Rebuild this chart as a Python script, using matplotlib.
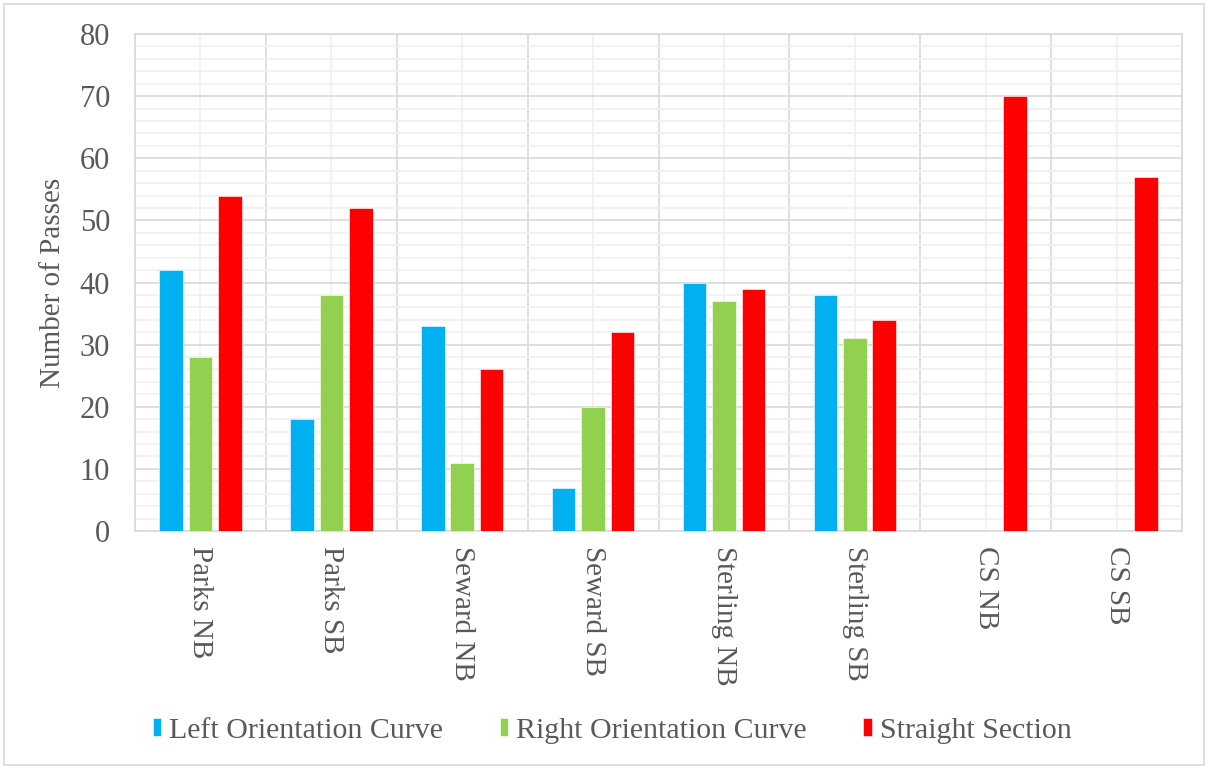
import matplotlib
matplotlib.use("Agg")
import matplotlib.pyplot as plt
import numpy as np
from matplotlib.patches import Rectangle

categories = ["Parks NB", "Parks SB", "Seward NB", "Seward SB",
              "Sterling NB", "Sterling SB", "CS NB", "CS SB"]
left_curve = [42, 18, 33, 7, 40, 38, 0, 0]
right_curve = [28, 38, 11, 20, 37, 31, 0, 0]
straight = [54, 52, 26, 32, 39, 34, 70, 57]
series_names = ["Left Orientation Curve", "Right Orientation Curve", "Straight Section"]
colors = ["#00B0F0", "#92D050", "#FF0000"]
y_ticks = [0, 10, 20, 30, 40, 50, 60, 70, 80]

plt.rcParams['font.family'] = ['Liberation Serif', 'DejaVu Serif']
text_color = "#595959"

fig = plt.figure(figsize=(12.08, 7.69), dpi=100)
ax = fig.add_axes([135/1208, 1-531/769, (1182-135)/1208, (531-34)/769])

x = np.arange(len(categories))
w = 0.18
step = 0.225
for i, (vals, c, name) in enumerate(zip([left_curve, right_curve, straight], colors, series_names)):
    ax.bar(x + (i-1)*step, vals, width=w, color=c, edgecolor="white", linewidth=0.4,
           label=name, zorder=3)

ax.set_xlim(-0.5, len(categories)-0.5)
ax.set_ylim(0, 80)
ax.set_yticks(y_ticks)
ax.set_yticks(np.arange(0, 81, 2), minor=True)
ax.set_xticks(x)
ax.set_xticklabels(categories, rotation=270, fontsize=21, color=text_color, va="top", ha="center")
ax.set_xticks(np.arange(-0.5, len(categories), 1), minor=True)
ax.tick_params(axis="y", labelsize=22, labelcolor=text_color, length=0, pad=18, which="both")
ax.tick_params(axis="x", length=0, pad=11, which="both")

# grid
ax.grid(which="minor", axis="y", color="#F0F0F0", linewidth=1.2, zorder=0)
ax.grid(which="major", axis="y", color="#D9D9D9", linewidth=1.2, zorder=1)
ax.grid(which="major", axis="x", color="#F0F0F0", linewidth=1.2, zorder=0)
ax.grid(which="minor", axis="x", color="#D9D9D9", linewidth=1.2, zorder=1)
for s in ax.spines.values():
    s.set_color("#D9D9D9")
    s.set_linewidth(1.2)

ax.set_ylabel("Number of Passes", fontsize=21, color=text_color, labelpad=10)

leg = fig.legend(loc="center", bbox_to_anchor=(612/1208, 1-731/769), ncol=3, frameon=False,
                 fontsize=21.5, handlelength=0.3, handleheight=0.55, handletextpad=0.25,
                 columnspacing=1.9)
for t in leg.get_texts():
    t.set_color(text_color)

fig.patches.append(Rectangle((4/1208, 4/769), 1-8/1208, 1-8/769, transform=fig.transFigure,
                             fill=False, edgecolor="#D9D9D9", linewidth=1.2))

fig.savefig("out.png", dpi=100)
